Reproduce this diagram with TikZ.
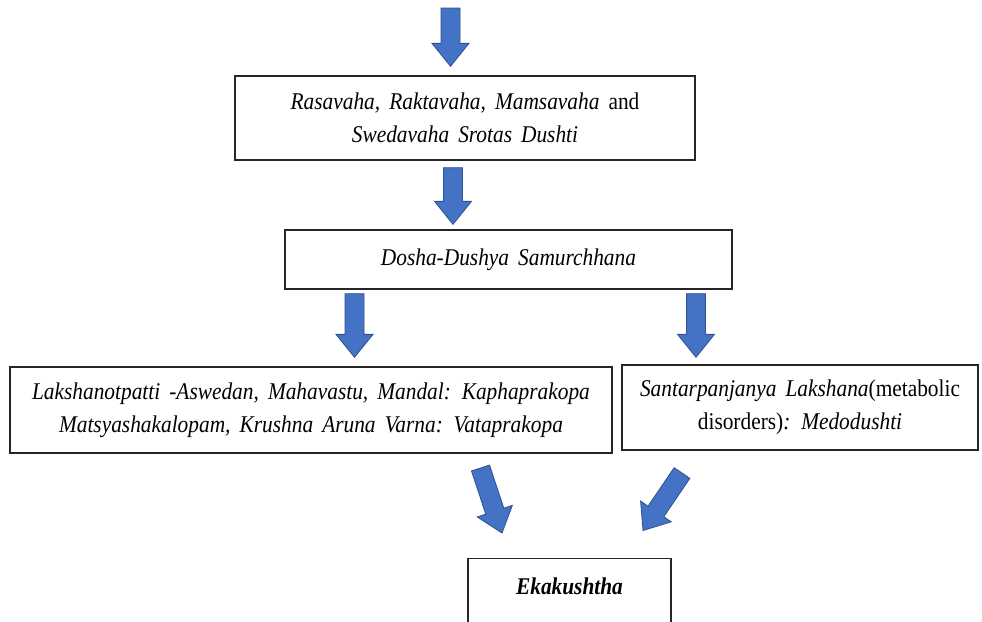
\documentclass[tikz,border=0pt]{standalone}
\usepackage{fontspec}
\setmainfont{Liberation Serif}[FakeStretch=0.89, WordSpace=1.7]
\usetikzlibrary{calc}
\definecolor{arrfill}{RGB}{68,114,196}
\definecolor{arrline}{RGB}{47,82,143}
\newcommand{\blockarrow}[2]{%
  \coordinate (tmpH) at ($(#2)!23pt!(#1)$);
  \filldraw[fill=arrfill, draw=arrline, line width=0.8pt, line join=miter]
    ($(#1)!9.5pt!90:(#2)$) -- ($(tmpH)!9.5pt!-90:(#1)$) -- ($(tmpH)!18.5pt!-90:(#1)$) -- (#2)
    -- ($(tmpH)!18.5pt!90:(#1)$) -- ($(tmpH)!9.5pt!90:(#1)$) -- ($(#1)!9.5pt!-90:(#2)$) -- cycle;}
\tikzset{
  box/.style={draw=black!85, line width=1.3pt, fill=white, rectangle, align=center,
    inner sep=0pt, font=\fontsize{24}{33}\selectfont}
}
\begin{document}
\begin{tikzpicture}[x=1pt,y=-1pt]
\useasboundingbox (0,0) rectangle (982,621);
\clip (0,0) rectangle (982,621);
\node[box, minimum width=460pt, minimum height=84pt] (b1) at (465,118)
  {\itshape Rasavaha, Raktavaha, Mamsavaha \upshape and\\ \itshape Swedavaha Srotas Dushti};
\node[box, minimum width=447pt, minimum height=59pt] (b2) at (508.5,259.5)
  {\itshape Dosha-Dushya Samurchhana};
\node[box, minimum width=602pt, minimum height=86pt] (b3) at (311,410)
  {\itshape Lakshanotpatti -Aswedan, Mahavastu, Mandal: Kaphaprakopa\\ \itshape Matsyashakalopam, Krushna Aruna Varna: Vataprakopa};
\node[box, minimum width=356pt, minimum height=85pt] (b4) at (800,407.5)
  {\itshape Santarpanjanya Lakshana\upshape(metabolic\\ disorders)\itshape: Medodushti};
\node[box, minimum width=203pt, minimum height=90pt, text depth=58pt, anchor=north] (b5) at (569.5,558)
  {\rule{0pt}{36pt}\bfseries\itshape Ekakushtha};
\coordinate (s1) at (450.5,8);   \coordinate (e1) at ($(b1.north)+(-14.5,-9)$);
\coordinate (s2) at ($(b1.south)+(-12,7)$);  \coordinate (e2) at ($(b2.north)+(-55.5,-5)$);
\coordinate (s3) at ($(b2.south)+(-154,4)$); \coordinate (e3) at ($(b3.north)+(43.5,-9)$);
\coordinate (s4) at ($(b2.south)+(187.5,4)$); \coordinate (e4) at ($(b4.north)+(-104,-7)$);
\coordinate (s5) at (480.5,468); \coordinate (e5) at (502,533);
\coordinate (s6) at (682,473);   \coordinate (e6) at (643,530.5);
\blockarrow{s1}{e1}
\blockarrow{s2}{e2}
\blockarrow{s3}{e3}
\blockarrow{s4}{e4}
\blockarrow{s5}{e5}
\blockarrow{s6}{e6}
\end{tikzpicture}
\end{document}
